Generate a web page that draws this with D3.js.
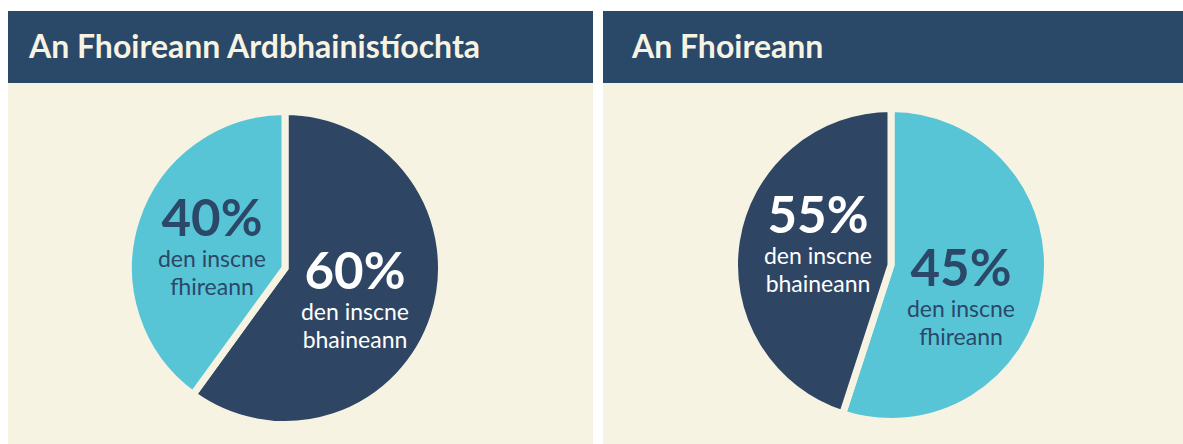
<!DOCTYPE html>
<html>
<head>
<meta charset="utf-8">
<script src="https://cdn.jsdelivr.net/npm/d3@7"></script>
<style>
  body { margin: 0; background: #fff; }
  svg { display: block; font-family: Lato, "Noto Sans", sans-serif; }
</style>
</head>
<body>
<svg width="1183" height="444"></svg>
<script>
// panel titles
const titles = ["An Fhoireann Ardbhainistíochta", "An Fhoireann"];

// slice shares as drawn, clockwise from 12 o'clock
const sharesLeft = [60, 40];
const sharesRight = [55, 45];

// which group each slice is
const groupsLeft = ["bhaineann", "fhireann"];
const groupsRight = ["fhireann", "bhaineann"];

// printed percentages for each slice
const pctLeft = ["60%", "40%"];
const pctRight = ["45%", "55%"];

const subLabels = {
  bhaineann: ["den inscne", "bhaineann"],
  fhireann: ["den inscne", "fhireann"],
};

const cream = "#f7f3e3";
const colorScale = d3.scaleOrdinal()
  .domain(["bhaineann", "fhireann"])
  .range(["#2e4664", "#58c5d7"]);
const textColor = { bhaineann: "#ffffff", fhireann: "#2b4868" };

const svg = d3.select("svg");

// panel boxes
const panels = [
  { x: 8, w: 585, tx: 29, cx: 285, cy: 268, shares: sharesLeft, groups: groupsLeft, pct: pctLeft },
  { x: 603, w: 580, tx: 632, cx: 891, cy: 265, shares: sharesRight, groups: groupsRight, pct: pctRight },
];

const pie = d3.pie().sort(null).value((d) => d);
const r = 153;
const gap = 7;
const arc = d3.arc().innerRadius(0).outerRadius(r + gap / 2);

panels.forEach((p, i) => {
  const g = svg.append("g");

  g.append("rect")
    .attr("x", p.x).attr("y", 83)
    .attr("width", p.w).attr("height", 444 - 83)
    .attr("fill", cream);

  g.append("rect")
    .attr("x", p.x).attr("y", 11)
    .attr("width", p.w).attr("height", 72)
    .attr("fill", "#2a4868");

  g.append("text")
    .attr("x", p.tx)
    .attr("y", 58)
    .attr("fill", cream)
    .attr("font-size", 32)
    .attr("font-weight", "bold")
    .text(titles[i]);

  const slices = pie(p.shares);
  const pg = g.append("g").attr("transform", `translate(${p.cx},${p.cy})`);

  pg.selectAll("path")
    .data(slices)
    .join("path")
    .attr("d", arc)
    .attr("fill", (d, j) => colorScale(p.groups[j]))
    .attr("stroke", cream)
    .attr("stroke-width", gap)
    .attr("stroke-linejoin", "miter");

  // labels: left-half slice sits high, right-half slice sits lower
  slices.forEach((d, j) => {
    const mid = (d.startAngle + d.endAngle) / 2;
    const onLeft = Math.sin(mid) < 0;
    const lx = onLeft ? -73 : 70;
    const ly = onLeft ? -32 : 21;
    const grp = p.groups[j];
    pg.append("text")
      .attr("x", lx).attr("y", ly)
      .attr("text-anchor", "middle")
      .attr("fill", textColor[grp])
      .attr("font-size", 51)
      .attr("font-weight", "bold")
      .text(p.pct[j]);
    subLabels[grp].forEach((s, k) => {
      pg.append("text")
        .attr("x", lx).attr("y", ly + 31 + k * 28)
        .attr("text-anchor", "middle")
        .attr("fill", textColor[grp])
        .attr("font-size", 23)
        .text(s);
    });
  });
});
</script>
</body>
</html>
